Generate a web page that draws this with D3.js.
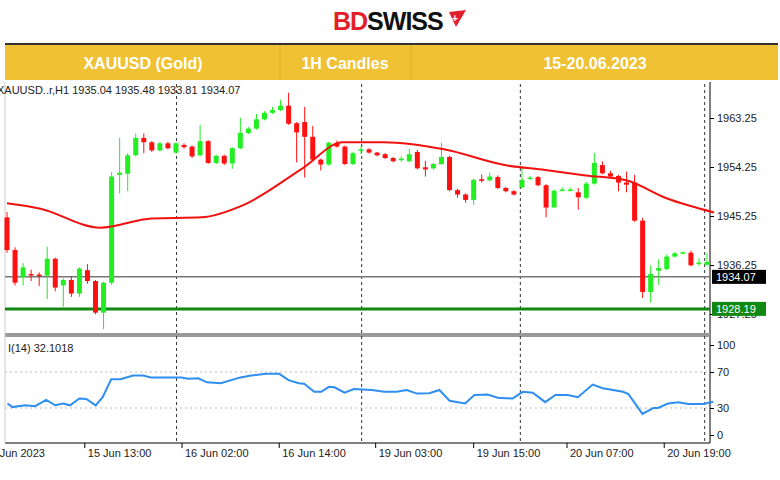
<!DOCTYPE html>
<html>
<head>
<meta charset="utf-8">
<script src="https://cdn.jsdelivr.net/npm/d3@7"></script>
<style>
  body { margin: 0; background: #fff; }
  svg { display: block; font-family: "Liberation Sans", Arial, sans-serif; }
</style>
</head>
<body>
<div id="chart"></div>
<script>
// hourly candles, XAUUSD 15-20 Jun 2023
var opens  = [1945,1939,1934,1934.6,1934.5,1934.3,1937.4,1932.5,1933.5,1931,1935.3,1933.3,1927.5,1933,1952.8,1953,1956.4,1959.6,1958.8,1957.3,1958.6,1956.9,1958.3,1958,1956.4,1959,1955,1956.3,1954.9,1957.7,1960.5,1961.3,1963,1964.2,1964.7,1965.5,1962.3,1962.5,1959.8,1955.6,1954.7,1958.7,1958,1954.8,1957.3,1957.5,1956.9,
              1956.6,1955.9,1955.5,1955.3,1957,1954.2,1954,1954.8,1956.1,1950,1949.2,1948.2,1952,1951.8,1952.4,1950.4,1949.8,1950.5,1952.1,1952.4,1950.9,1946.8,1950,1949.9,1949.6,1948.6,1951.2,1954.6,1953.1,1952.6,1951.4,1951.4,1944.4,1931.3,1935.2,1935.5,1937.8,1938.4,1938.5,1936.5,1936.3];
var closes = [1939,1933,1935.8,1934.5,1934.4,1937.4,1932.1,1933.5,1931,1935.6,1933.3,1927.5,1933,1952.5,1953.2,1956.4,1959.6,1958.8,1957.3,1958.6,1957.7,1958.6,1957.9,1956.2,1959,1955,1956.3,1954.9,1957.7,1960.5,1961.3,1963,1964.2,1964.7,1965.5,1962.2,1960.6,1959.8,1955.6,1954.7,1958.7,1958,1954.8,1956.8,1957.5,1956.9,1956.4,
              1955.9,1955.3,1955.8,1956.6,1954,1953.8,1954.8,1956.1,1950,1949.2,1948.2,1951.9,1951.7,1952.5,1950.4,1949.8,1949.2,1951.9,1952.3,1950.9,1946.8,1949.9,1950.1,1950.1,1948.7,1951.2,1955,1953.1,1952.5,1951.4,1951,1944.4,1931.3,1934.6,1935.7,1937.8,1938.4,1938.6,1936.2,1936.7,1936.8,1937.4];
var highs  = [1946,1939.5,1936.6,1935.4,1934.9,1939.6,1937.6,1933.8,1934.2,1935.8,1936.4,1933.5,1933.2,1953.3,1959.6,1956.8,1960.4,1960.4,1959,1958.9,1958.9,1958.8,1958.6,1958.2,1962,1959.2,1956.5,1956.5,1957.9,1963.3,1961.6,1964,1964.5,1965.3,1966.6,1967.9,1962.5,1965.3,1961.8,1955.8,1958.9,1959.1,1958.2,1957,1958,1957.7,1957,
              1956.8,1956.1,1956.2,1957.6,1957.4,1955.4,1955,1958.7,1956.3,1950.2,1949.4,1952.1,1952.9,1953.2,1952.7,1950.6,1950,1954.1,1952.6,1952.6,1951.1,1950.1,1950.5,1950.5,1950.4,1951.5,1956.8,1955.3,1953.6,1952.8,1953.4,1952.8,1944.9,1936.2,1937.3,1938.2,1938.6,1938.7,1938.9,1937.5,1938.5,1938.8];
var lows   = [1938.5,1932.5,1932.5,1933.3,1932.4,1930,1931.4,1928.6,1930.4,1930.4,1932.8,1927.2,1924.5,1932.6,1949.4,1949.8,1956.2,1956.8,1957,1957.1,1957.5,1956.7,1957.6,1955.9,1956.2,1954.8,1954.8,1954.6,1953.9,1957.5,1960.3,1961.1,1962.8,1964,1964.5,1962,1955.1,1952.3,1955.4,1953.6,1954.5,1957.8,1954.6,1954.6,1956.6,1956.7,1956.2,
              1955.7,1955.1,1955.2,1955.1,1953.8,1952.5,1953.8,1954.6,1949.8,1948.6,1947.7,1947.3,1951.4,1951.6,1950.2,1949.6,1949,1950.3,1951.9,1950.7,1945,1949.6,1949.8,1949.8,1946.4,1948.4,1951,1952.9,1952.2,1949.8,1949.6,1944.2,1930.2,1929.3,1932.6,1935.3,1937.6,1938.2,1936,1936.1,1936.1,1936.6];
// moving average key points [hour position, price]
var maIdx = [0,4.3,12,18.6,25,30.3,38,43.2,48.4,56.2,64,69.2,74.4,79.6,84.8,90.9];
var maVal = [1947.6,1946.6,1943.1,1944.8,1945,1947.2,1954,1958.8,1958.8,1957.5,1954.6,1953.7,1952.7,1951.8,1948.5,1945.9];
// RSI(14) key points [hour position, value]
var rsiIdx = [0.06,0.7,2.3,3.6,5.04,6.2,7.2,8.1,9.3,10.2,11.4,12.3,13.4,14.6,16.2,17.5,18.5,22.4,23.3,24.6,25.7,27.5,30,31.4,33.3,35,36.2,37.5,38.2,39.5,40.4,41.4,42.1,43.4,44.6,46.9,48.5,50.1,51.4,52.7,54.3,55.6,56.9,58.9,60.1,61.8,63.1,65,66.3,67.6,69.2,70.5,72.1,73.4,75.3,76.6,79.2,79.9,81.7,83.1,83.7,85,86.3,87.6,89.5,90.8];
var rsiVal = [35,31,33,32,39,33,35,33,40.5,40,33,42,62,62,66,66,64,64,62.5,63,58.5,57.5,64,66,68,68,61,57.5,57,48,48,53.5,53,47,51,50,48,48,50,46,46.5,50,38,35,44.5,45,41.5,40.5,48,47,36.5,44.5,44.5,42,56,52,48,45.5,23.5,30,30,35,36.5,34.5,34.5,37];
// x-axis ticks and day separators [hour position]
var tickIdx = [-3.3,10,22.5,35,47.4,60,72,84.5];
var tickLabels = ["15 Jun 2023","15 Jun 13:00","16 Jun 02:00","16 Jun 14:00","19 Jun 03:00","19 Jun 15:00","20 Jun 07:00","20 Jun 19:00"];
var sepIdx = [21.8,45.6,66,89.7];
var priceTicks = [1927.25,1936.25,1945.25,1954.25,1963.25];
var rsiTicks = [0,30,70,100];
var lastPrice = 1934.07, support = 1928.19;

var W = 780, H = 480;
var svg = d3.select("#chart").append("svg").attr("width", W).attr("height", H);

// logo
var logo = svg.append("text").attr("x", 333).attr("y", 30)
  .style("font-size", "25px").style("font-weight", "bold").style("letter-spacing", "-1px");
logo.append("tspan").attr("fill", "#e3202a").text("BD");
logo.append("tspan").attr("fill", "#111").text("SWISS");
svg.append("path").attr("d", "M449,12 L466,10 L456,27 Z").attr("fill", "#e3202a");
svg.append("text").attr("x", 455).attr("y", 22).attr("fill", "#fff").style("font-size", "10px")
  .style("font-weight", "bold").attr("text-anchor", "middle").text("+");

// header bar
svg.append("rect").attr("x", 5).attr("y", 43).attr("width", 773).attr("height", 2).attr("fill", "#333");
svg.append("rect").attr("x", 5).attr("y", 45).attr("width", 773).attr("height", 35).attr("fill", "#f0c132");
[280, 411].forEach(function (x) {
  svg.append("line").attr("x1", x).attr("x2", x).attr("y1", 45).attr("y2", 80).attr("stroke", "#dcae28");
});
[[143, "XAUUSD (Gold)"], [345, "1H Candles"], [595, "15-20.06.2023"]].forEach(function (t) {
  svg.append("text").attr("x", t[0]).attr("y", 69).attr("text-anchor", "middle").attr("fill", "#fff")
    .style("font-size", "16px").style("font-weight", "bold").text(t[1]);
});

// hour-position scale and candle scale
var xr = d3.scaleLinear().domain([0, 90]).range([7, 707]);
var x = d3.scaleLinear().domain([0, opens.length - 1]).range([7, 707]);
var y = d3.scaleLinear().domain([1963.25, 1936.25]).range([118, 265]);
var yr = d3.scaleLinear().domain([0, 100]).range([435, 345]);
var axisX = 710;

// frame lines
svg.append("line").attr("x1", axisX).attr("x2", axisX).attr("y1", 82).attr("y2", 443).attr("stroke", "#000");
svg.append("line").attr("x1", 5).attr("x2", axisX).attr("y1", 443).attr("y2", 443).attr("stroke", "#000");
svg.append("rect").attr("x", 5).attr("y", 333).attr("width", axisX - 5).attr("height", 4).attr("fill", "#999");
svg.append("line").attr("x1", 5).attr("x2", 5).attr("y1", 82).attr("y2", 443).attr("stroke", "#ccc");

// day separators
sepIdx.forEach(function (i) {
  svg.append("line").attr("x1", xr(i)).attr("x2", xr(i)).attr("y1", 84).attr("y2", 443)
    .attr("stroke", "#333").attr("stroke-dasharray", "3,3");
});

// RSI level lines
[30, 70].forEach(function (v) {
  svg.append("line").attr("x1", 5).attr("x2", axisX).attr("y1", yr(v)).attr("y2", yr(v))
    .attr("stroke", "#bbb").attr("stroke-dasharray", "2,3");
});

// horizontal price lines
svg.append("line").attr("x1", 5).attr("x2", axisX).attr("y1", y(lastPrice)).attr("y2", y(lastPrice))
  .attr("stroke", "#777").attr("stroke-width", 1.5);
svg.append("line").attr("x1", 5).attr("x2", axisX).attr("y1", y(support)).attr("y2", y(support))
  .attr("stroke", "#118811").attr("stroke-width", 3);

// candles
var data = opens.map(function (o, i) {
  return { i: i, o: o, c: closes[i], h: highs[i], l: lows[i] };
});
var g = svg.append("g");
g.selectAll("line.wick").data(data).join("line")
  .attr("x1", function (d) { return x(d.i); }).attr("x2", function (d) { return x(d.i); })
  .attr("y1", function (d) { return y(d.h); }).attr("y2", function (d) { return y(d.l); })
  .attr("stroke", function (d) { return d.c >= d.o ? "#22ee22" : "#ff1111"; });
g.selectAll("rect").data(data).join("rect")
  .attr("x", function (d) { return x(d.i) - 2.5; }).attr("width", 5)
  .attr("y", function (d) { return y(Math.max(d.o, d.c)); })
  .attr("height", function (d) { return Math.max(1.5, Math.abs(y(d.o) - y(d.c))); })
  .attr("fill", function (d) { return d.c >= d.o ? "#22ee22" : "#ff1111"; });

// moving average
svg.append("path").datum(maIdx.map(function (d, k) { return [d, maVal[k]]; }))
  .attr("fill", "none").attr("stroke", "#f01010").attr("stroke-width", 2)
  .attr("d", d3.line().x(function (d) { return xr(d[0]); }).y(function (d) { return y(d[1]); }).curve(d3.curveMonotoneX));

// RSI
svg.append("path").datum(rsiIdx.map(function (d, k) { return [d, rsiVal[k]]; }))
  .attr("fill", "none").attr("stroke", "#2e8ff0").attr("stroke-width", 2)
  .attr("d", d3.line().x(function (d) { return xr(d[0]); }).y(function (d) { return yr(d[1]); }));

svg.append("text").attr("x", -3).attr("y", 94).style("font-size", "11px").attr("fill", "#222")
  .text("XAUUSD..r,H1  1935.04 1935.48 1933.81 1934.07");
svg.append("text").attr("x", 8).attr("y", 352).style("font-size", "11px").attr("fill", "#222")
  .text("I(14) 32.1018");

// right axes
var fmt = d3.format(".2f");
svg.append("g").attr("transform", "translate(" + axisX + ",0)")
  .call(d3.axisRight(y).tickValues(priceTicks).tickSize(4).tickFormat(fmt))
  .call(function (a) { a.select(".domain").remove(); a.selectAll("text").style("font-size", "11px").attr("fill", "#222"); });
svg.append("g").attr("transform", "translate(" + axisX + ",0)")
  .call(d3.axisRight(yr).tickValues(rsiTicks).tickSize(4))
  .call(function (a) { a.select(".domain").remove(); a.selectAll("text").style("font-size", "11px").attr("fill", "#222"); });

// price tags
[[lastPrice, "#000"], [support, "#118811"]].forEach(function (p) {
  svg.append("rect").attr("x", axisX + 2).attr("y", y(p[0]) - 7).attr("width", 54).attr("height", 14).attr("fill", p[1]);
  svg.append("text").attr("x", axisX + 6).attr("y", y(p[0]) + 4).attr("fill", "#fff")
    .style("font-size", "11px").text(fmt(p[0]));
});

// x axis labels
svg.append("g").selectAll("g").data(tickIdx).join("g").each(function (d, k) {
  var s = d3.select(this);
  s.append("line").attr("x1", xr(d)).attr("x2", xr(d)).attr("y1", 443).attr("y2", 448).attr("stroke", "#000");
  s.append("text").attr("x", xr(d) + 3).attr("y", 457).style("font-size", "11px").attr("fill", "#222").text(tickLabels[k]);
});
</script>
</body>
</html>
